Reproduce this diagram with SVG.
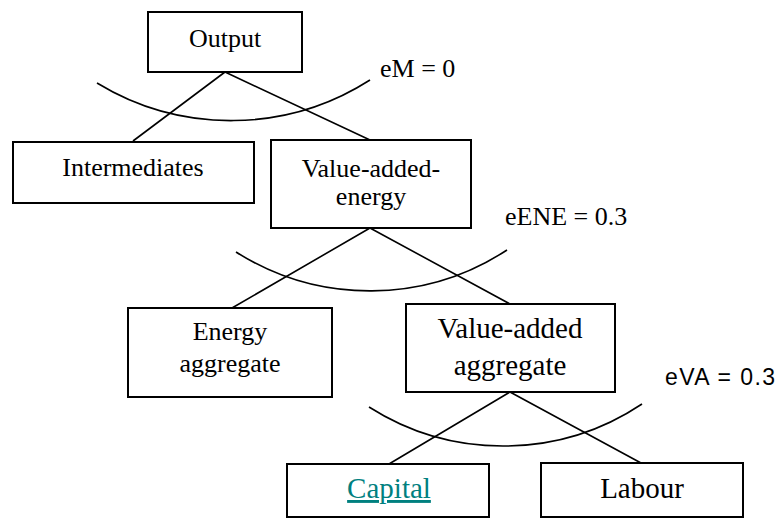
<svg xmlns="http://www.w3.org/2000/svg" width="778" height="518" viewBox="0 0 778 518">
  <style>
    .box { fill: #ffffff; stroke: #000000; stroke-width: 2; }
    .edge { fill: none; stroke: #000000; stroke-width: 1.6; }
    .arc { fill: none; stroke: #000000; stroke-width: 1.6; }
    .t { font-family: "Liberation Serif", "Times New Roman", serif; font-size: 26px; fill: #000000; text-anchor: middle; }
    .t2 { font-size: 29px; }
    .lbl { font-family: "Liberation Serif", "Times New Roman", serif; font-size: 26px; fill: #000000; }
    .lbl-sans { font-family: "Liberation Sans", Arial, sans-serif; font-size: 23px; fill: #000000; }
    .link { fill: #00807f; text-decoration: underline; }
  </style>
  <rect width="778" height="518" fill="#ffffff"/>

  <!-- branch lines and elasticity arcs -->
  <g id="connectors">
    <path class="edge" d="M225 72 L133 141 M225 72 L370 140"/>
    <path class="arc" d="M97 83 A258 258 0 0 0 370 80"/>
    <path class="edge" d="M370 228 L232 308 M370 228 L510 304"/>
    <path class="arc" d="M236 252 A250 250 0 0 0 507 250"/>
    <path class="edge" d="M510 392 L389 464 M510 392 L641 463"/>
    <path class="arc" d="M369 407 A250 250 0 0 0 642 404"/>
  </g>

  <g id="output">
    <rect class="box" x="148" y="12" width="154" height="60"/>
    <text class="t" x="225" y="47">Output</text>
  </g>

  <g id="intermediates">
    <rect class="box" x="13" y="142" width="241" height="61"/>
    <text class="t" x="133" y="176">Intermediates</text>
  </g>

  <g id="value-added-energy">
    <rect class="box" x="271" y="140" width="200" height="88"/>
    <text class="t" x="371" y="177">Value-added-</text>
    <text class="t" x="371" y="205">energy</text>
  </g>

  <g id="energy-aggregate">
    <rect class="box" x="128" y="308" width="204" height="89"/>
    <text class="t" x="230" y="340">Energy</text>
    <text class="t" x="230" y="372">aggregate</text>
  </g>

  <g id="value-added-aggregate">
    <rect class="box" x="406" y="304" width="209" height="88"/>
    <text class="t t2" x="510" y="338">Value-added</text>
    <text class="t t2" x="510" y="375">aggregate</text>
  </g>

  <g id="capital">
    <rect class="box" x="287" y="464" width="202" height="53"/>
    <text class="t t2 link" x="389" y="498">Capital</text>
  </g>

  <g id="labour">
    <rect class="box" x="541" y="463" width="202" height="54"/>
    <text class="t t2" x="642" y="498">Labour</text>
  </g>

  <!-- elasticity labels -->
  <g id="labels">
    <text class="lbl" x="380" y="77">eM = 0</text>
    <text class="lbl" x="505" y="225">eENE = 0.3</text>
    <text class="lbl-sans" x="665" y="385" textLength="110">eVA = 0.3</text>
  </g>
</svg>
